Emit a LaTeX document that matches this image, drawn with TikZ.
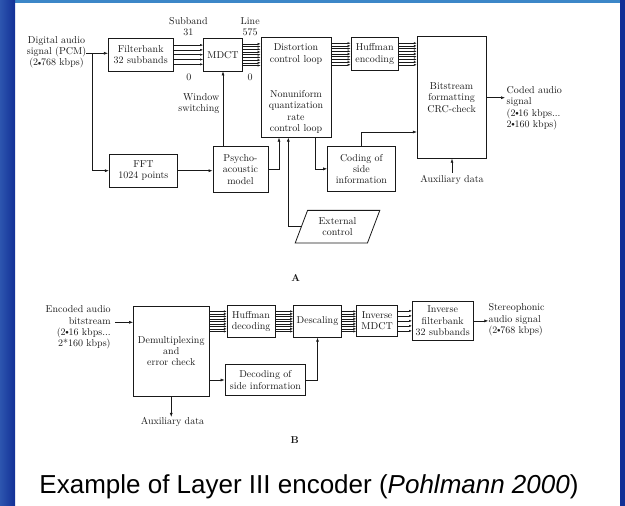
\documentclass[tikz,border=0pt]{standalone}
\usepackage{fontspec}
\usepackage{graphicx}
\usetikzlibrary{arrows.meta,calc,shapes.geometric}
\newfontfamily\capfam{Liberation Sans}
\newcommand\diagfont{\fontsize{10}{11.3}\selectfont}
\newcommand\bul{\kern-0.3pt\raisebox{0.15ex}{\scalebox{0.7}{$\bullet$}}\kern-0.3pt}
\definecolor{navy}{RGB}{18,48,150}
\definecolor{navylight}{RGB}{45,85,175}
\definecolor{topblue}{RGB}{60,135,200}
\definecolor{ink}{RGB}{25,25,25}
\begin{document}
\begin{tikzpicture}[x=1pt,y=-1pt,
  box/.style={draw=ink, line width=0.8pt, inner sep=0pt, align=center, font=\diagfont, text=ink},
  lbl/.style={inner sep=0pt, align=center, font=\diagfont, text=ink},
  arr/.style={draw=ink, line width=0.6pt, -{Latex[length=4pt,width=3pt]}},
  barr/.style={draw=ink, line width=0.45pt, -{Latex[length=3pt,width=2.2pt]}}]
\useasboundingbox (0,0) rectangle (625,506);
% slide background
\fill[white] (0,0) rectangle (625,506);
\fill[topblue] (0,0) rectangle (625,3);
\shade[left color=navylight, right color=navy] (0,0) rectangle (15,506);
\fill[navy] (620,0) rectangle (625,506);

% ---------------- A: encoder ----------------
\node[lbl] (din) at (56.5,52.3) {Digital audio\\signal (PCM)\\(2\bul768 kbps)};
\node[box, minimum width=64.7, minimum height=32.7] (fb) at (140.7,54.7) {Filterbank\\32 subbands};
\node[box, minimum width=39, minimum height=32.7] (mdct) at (223,54.7) {MDCT};
\node[box, minimum width=70, minimum height=99.7] (dist) at (296,87.35) {};
\node[lbl] (distA) at (296,54.2) {Distortion\\control loop};
\node[lbl] (distB) at (296,112) {Nonuniform\\quantization\\rate\\control loop};
\node[box, minimum width=47.4, minimum height=33] (huffe) at (374.7,54) {Huffman\\encoding};
\node[box, minimum width=68.8, minimum height=121.6] (bits) at (451.6,97.5) {Bitstream\\formatting\\CRC-check};
\node[lbl, align=left, anchor=west] (cout) at (506.5,108.2) {Coded audio\\signal\\(2\bul16 kbps...\\2\bul160 kbps)};
\node[lbl] (auxA) at (452,179.5) {Auxiliary data};
\node[box, minimum width=68.2, minimum height=33.5] (fft) at (143.4,170.7) {FFT\\1024 points};
\node[box, minimum width=55, minimum height=46.7] (psy) at (240.5,169.3) {Psycho-\\acoustic\\model};
\node[box, minimum width=67.6, minimum height=44.3] (cod) at (361.4,168.85) {Coding of\\side\\information};
\node[trapezium, draw=ink, line width=0.8pt, trapezium left angle=67, trapezium right angle=113,
      trapezium stretches=true, minimum width=85, minimum height=32.7, inner sep=0pt,
      align=center, font=\diagfont, text=ink] (ext) at (337.5,226.7) {External\\control};
\node[lbl, align=right, anchor=east] (win) at (219.5,103.8) {Window\\switching};
\node[lbl] (sb) at (188.4,26.7) {Subband\\31};
\node[lbl] (sb0) at (188.8,77.3) {0};
\node[lbl] (ln) at (250.2,26.7) {Line\\575};
\node[lbl] (ln0) at (250.2,77.3) {0};
\node[font=\diagfont\bfseries, text=ink] (labA) at (295.6,278.3) {A};

% connectors
\coordinate (split) at (92.7,53.3);
\draw[arr] (din.east |- split) -- (split -| fb.west);
\draw[arr] (split) |- (fft.west);
\draw[arr] (fft.east) -- (fft.east -| psy.west);
\draw[arr] (mdct.south |- psy.north) -- (mdct.south);
\draw[arr] (psy.east) -| ([xshift=-17pt]dist.south);
\draw[arr] (ext.left side) -| ([xshift=-7.7pt]dist.south);
\draw[arr] ([xshift=19pt]dist.south) |- (cod.west);
\coordinate (codj) at (0,132);
\draw[arr] (cod.north) |- (bits.west |- codj);
\coordinate (outarr) at (505,97.7);
\draw[arr] (bits.east |- outarr) -- (outarr);
\draw[arr] ([yshift=2pt]auxA.north) -- (auxA.north |- bits.south);

% signal bundles
\foreach \d in {-9.6,-4.8,0,4.8,9.6}
  \draw[barr] ($(fb.east)+(0,\d)$) -- ($(fb.east -| mdct.west)+(0,\d)$);
\foreach \d in {-10.8,-8.1,-5.4,-2.7,0,2.7,5.4,8.1,10.8} {
  \draw[barr] ($(mdct.east)+(0,\d)$) -- ($(mdct.east -| dist.west)+(0,\d)$);
  \draw[barr] ($(huffe.west -| dist.east)+(0,\d)$) -- ($(huffe.west)+(0,\d)$);
  \draw[barr] ($(huffe.east)+(0,\d)$) -- ($(huffe.east -| bits.west)+(0,\d)$);
}

% ---------------- B: decoder ----------------
\node[lbl, align=right, anchor=east] (ein) at (110.8,327.5) {Encoded audio\\bitstream\\(2\bul16 kbps...\\2*160 kbps)};
\node[box, minimum width=75.5, minimum height=89.5] (demux) at (171.25,351.25) {Demultiplexing\\and\\error check};
\node[box, minimum width=47.8, minimum height=31.8] (hufd) at (251.1,321.4) {Huffman\\decoding};
\node[box, minimum width=48, minimum height=31.8] (desc) at (317.5,321.4) {Descaling};
\node[box, minimum width=40.8, minimum height=31.7] (imdct) at (377.1,320.9) {Inverse\\MDCT};
\node[box, minimum width=60.6, minimum height=38.3] (ifb) at (442.7,320.9) {Inverse\\filterbank\\32 subbands};
\node[lbl, align=left, anchor=west] (sout) at (488.3,320) {Stereophonic\\audio signal\\(2\bul768 kbps)};
\node[box, minimum width=80.8, minimum height=31.5] (dsi) at (265.4,380) {Decoding of\\side information};
\node[lbl] (auxB) at (172.5,421.7) {Auxiliary data};
\node[font=\diagfont\bfseries, text=ink] (labB) at (294.8,440) {B};

\coordinate (einarr) at (115,322.3);
\draw[arr] (einarr) -- (einarr -| demux.west);
\draw[arr] (ifb.east) -- (ifb.east -| sout.west);
\draw[arr] (dsi.west -| demux.east) -- (dsi.west);
\draw[arr] (dsi.east) -| (desc.south);
\draw[arr] (demux.south) -- (demux.south |- auxB.north);

\foreach \d in {-10,-7.5,-5,-2.5,0,2.5,5,7.5,10} {
  \draw[barr] ($(hufd.west -| demux.east)+(0,\d)$) -- ($(hufd.west)+(0,\d)$);
  \draw[barr] ($(hufd.east)+(0,\d)$) -- ($(hufd.east -| desc.west)+(0,\d)$);
  \draw[barr] ($(desc.east)+(0,\d)$) -- ($(desc.east -| imdct.west)+(0,\d)$);
}
\foreach \d in {-10,-5,0,5,10}
  \draw[barr] ($(imdct.east)+(0,\d)$) -- ($(imdct.east -| ifb.west)+(0,\d)$);

% caption
\node[font=\capfam\fontsize{26}{30}\selectfont, anchor=base, inner sep=0pt] (cap) at (309,493)
  {Example of Layer III encoder (\textit{Pohlmann 2000})};
\end{tikzpicture}
\end{document}
